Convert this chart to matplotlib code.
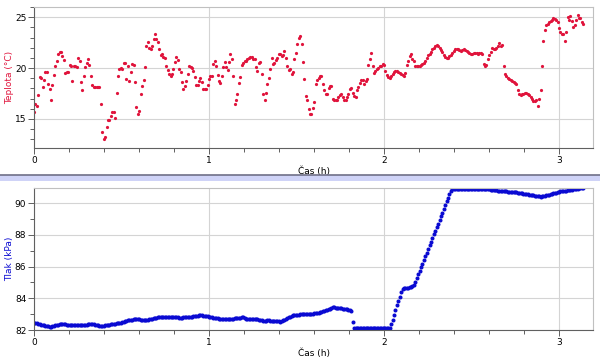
import numpy as np
import matplotlib
matplotlib.use("Agg")
import matplotlib.pyplot as plt
from matplotlib.patches import Rectangle
from matplotlib.lines import Line2D
from matplotlib.ticker import MultipleLocator

# sampling step of the logger (h)
DT = 0.00813

# temperature (°C), one value per sample
teplota = [
    15.7, 16.5, 16.3, 17.4, 19.1, 19.0, 18.1, 18.8, 19.6, 19.6, 18.4, 17.9, 16.9, 18.3, 19.3,
    20.2, 20.7, 21.4, 21.6, 21.6, 21.2, 20.8, 19.5, 19.6, 19.6, 20.3, 20.2, 18.7, 20.2, 20.2,
    20.1, 21.0, 20.7, 18.6, 17.8, 19.2, 20.1, 20.5, 20.9, 20.3, 19.2, 18.3, 18.1, 18.1, 18.1,
    18.1, 18.1, 16.5, 13.7, 13.0, 13.2, 14.2, 14.9, 14.9, 15.3, 15.7, 15.7, 15.1, 17.6, 19.2,
    19.9, 20.0, 19.9, 20.5, 20.5, 18.9, 20.2, 18.7, 19.6, 20.4, 20.3, 18.6, 16.2, 15.5, 15.8,
    # ~0.6 h
    17.5, 18.2, 18.8, 20.1, 22.2, 22.6, 22.0, 21.9, 22.2, 22.9, 23.3, 22.9, 22.6, 21.9, 21.3,
    21.4, 21.1, 21.0, 20.2, 19.8, 19.4, 19.2, 19.4, 19.9, 20.6, 21.1, 20.8, 19.9, 19.6, 18.6,
    17.9, 18.2, 18.7, 19.4, 20.2, 20.1, 20.0, 19.7, 19.1, 18.3, 18.3, 18.7, 19.0, 18.6, 17.9,
    17.9, 17.9, 18.3, 18.9, 19.2, 19.2, 20.4, 20.7, 20.2, 19.3, 18.7, 18.5, 19.2, 20.1, 20.6,
    20.1, 19.8, 20.6, 21.4, 20.9, 19.2, 16.5, 16.9, 17.5, 18.5, 19.1, 20.3, 20.5, 20.7, 20.7,
    20.9, 21.0, 21.1, 21.1,
    # ~1.25 h
    20.9, 20.9, 20.1, 19.7, 20.5, 20.6, 19.4, 17.5, 16.9, 17.6, 18.4, 19.0, 19.9, 21.0, 20.4,
    20.5, 20.8, 21.0, 21.4, 21.4, 21.2, 21.3, 21.7, 21.0, 20.2, 19.8, 19.9, 19.4, 19.6, 20.9,
    21.5, 22.4, 23.0, 23.2, 22.4, 20.6, 18.9, 17.3, 16.9, 16.0, 15.5, 15.5, 16.1, 16.7, 18.4,
    18.8, 19.0, 19.2, 19.2, 18.4, 17.8, 17.5, 17.5, 18.0, 18.2, 18.2, 17.0, 16.9, 16.9, 16.9,
    17.2, 17.4, 17.5, 17.2, 16.9, 16.9, 17.2, 17.5, 17.9, 18.0, 17.6, 17.3, 17.2, 17.8, 18.1,
    18.5, 18.8, 18.8, 18.4,
    # ~1.9 h
    18.7, 18.9, 20.3, 20.9, 21.5, 20.2, 19.5, 19.7, 19.9, 20.0, 20.2, 20.2, 20.4, 20.3, 19.7,
    19.3, 19.1, 19.0, 19.2, 19.4, 19.6, 19.7, 19.7, 19.6, 19.5, 19.4, 19.3, 19.2, 19.5, 20.3,
    20.7, 21.2, 21.4, 20.9, 20.7, 20.2, 20.2, 20.2, 20.2, 20.3, 20.4, 20.5, 20.7, 21.0, 21.3,
    21.4, 21.6, 21.9, 22.0, 22.2, 22.3, 22.2, 22.0, 21.8, 21.6, 21.3, 21.1, 21.0, 21.0, 21.2,
    21.3, 21.5, 21.7, 21.9, 21.9, 21.9, 21.8, 21.7, 21.8, 21.9, 21.8, 21.7, 21.6, 21.5, 21.4,
    21.4, 21.5, 21.5, 21.5,
    # ~2.55 h
    21.4, 21.5, 21.5, 21.4, 20.4, 20.2, 20.3, 20.9, 21.3, 21.6, 22.0, 21.9, 21.9, 22.0, 22.2,
    22.5, 22.2, 22.3, 20.2, 19.4, 19.2, 19.0, 18.9, 18.8, 18.7, 18.6, 18.5, 18.4, 17.8, 17.5,
    17.4, 17.5, 17.5, 17.6, 17.6, 17.5, 17.4, 17.2, 17.0, 16.8, 16.8, 16.9, 16.3, 17.0, 17.8,
    20.2, 22.7, 23.7, 24.2, 24.3, 24.5, 24.6, 24.7, 24.9, 24.8, 24.7, 24.5, 23.9, 23.5, 23.3,
    23.3, 22.7, 23.5, 25.0, 24.7, 25.1, 24.6, 24.0, 24.2, 24.7, 25.2, 24.9, 24.9, 24.5, 24.3,
]

# pressure (kPa), one value per sample
tlak = [
    82.46, 82.44, 82.41, 82.39, 82.36, 82.34, 82.31, 82.29, 82.27, 82.25, 82.23, 82.22, 82.21,
    82.24, 82.27, 82.30, 82.32, 82.34, 82.36, 82.38, 82.37, 82.36, 82.35, 82.34, 82.33, 82.33,
    82.32, 82.32, 82.32, 82.33, 82.33, 82.34, 82.34, 82.34, 82.34, 82.34, 82.34, 82.34, 82.35,
    82.35, 82.35, 82.36, 82.36, 82.34, 82.31, 82.29, 82.27, 82.27, 82.28, 82.28, 82.29, 82.29,
    82.31, 82.33, 82.35, 82.37, 82.38, 82.40, 82.41, 82.43, 82.44, 82.47, 82.50, 82.53, 82.56,
    82.59, 82.61, 82.63, 82.65, 82.66, 82.67, 82.67, 82.67, 82.67, 82.67, 82.66, 82.65, 82.64,
    82.64, 82.63, 82.65, 82.67, 82.69, 82.72, 82.74, 82.76, 82.77, 82.79, 82.80, 82.82, 82.82,
    82.82, 82.82, 82.82, 82.82, 82.81, 82.81, 82.80, 82.80, 82.80, 82.79, 82.79, 82.78, 82.78,
    82.78, 82.79, 82.79, 82.80, 82.81, 82.82, 82.83, 82.85, 82.86, 82.88, 82.89, 82.91, 82.92,
    # ~0.95 h
    82.94, 82.93, 82.91, 82.90, 82.88, 82.86, 82.84, 82.82, 82.80, 82.78, 82.76, 82.74,
    82.73, 82.72, 82.71, 82.70, 82.69, 82.68, 82.67, 82.68, 82.69, 82.70, 82.71, 82.72,
    82.73, 82.74, 82.75, 82.77, 82.78, 82.79, 82.80, 82.76, 82.71, 82.67,
    82.67, 82.68, 82.68, 82.69, 82.69, 82.69, 82.67, 82.65, 82.63, 82.61, 82.59,
    82.59, 82.59, 82.60, 82.60, 82.59, 82.59, 82.59, 82.58, 82.57, 82.56, 82.55, 82.53,
    82.57, 82.61, 82.65, 82.70, 82.74, 82.79, 82.84, 82.90, 82.95,
    82.96, 82.96, 82.97, 82.97, 82.98, 82.98, 82.99, 83.00, 83.00, 83.01, 83.01, 83.02, 83.02,
    83.03, 83.05, 83.06, 83.08, 83.09, 83.11, 83.14, 83.17, 83.20, 83.23, 83.26,
    83.30, 83.35, 83.39, 83.43, 83.42, 83.41, 83.40, 83.38, 83.37, 83.36, 83.35, 83.33, 83.32,
    83.30, 83.27, 83.24, 83.20,
    # drop at ~1.8 h
    82.53,
    82.15, 82.15, 82.15, 82.15, 82.15, 82.15, 82.15, 82.15, 82.15, 82.15, 82.15, 82.15, 82.15,
    82.15, 82.15, 82.15, 82.15, 82.15, 82.15, 82.15, 82.15, 82.15, 82.15, 82.15, 82.15, 82.15,
    # rise
    82.35, 82.65, 82.95, 83.25, 83.55, 83.83, 84.10, 84.42, 84.57, 84.65, 84.67, 84.67, 84.67,
    84.70, 84.72,
    84.75, 84.84, 85.05, 85.28, 85.50, 85.72, 85.95, 86.18, 86.42, 86.65, 86.88, 87.10, 87.33,
    87.56, 87.80, 88.03, 88.26, 88.48, 88.70, 88.93, 89.16, 89.40, 89.63, 89.86, 90.10, 90.35,
    90.58, 90.78, 90.88,
    # top
    90.90, 90.90, 90.90, 90.89, 90.89, 90.89, 90.88, 90.88, 90.88, 90.88,
    90.88, 90.89, 90.89, 90.89, 90.90, 90.90, 90.90, 90.90, 90.90,
    90.89, 90.89, 90.88, 90.88, 90.88,
    90.87, 90.86, 90.85, 90.84, 90.83, 90.82, 90.80, 90.79, 90.77,
    90.76, 90.75, 90.74, 90.74, 90.73, 90.72, 90.71, 90.71, 90.70, 90.69,
    90.68, 90.67, 90.65, 90.64, 90.63, 90.61, 90.60, 90.58, 90.56,
    90.55, 90.53, 90.52, 90.50, 90.49, 90.47, 90.46, 90.44, 90.43, 90.41,
    90.43, 90.45, 90.47, 90.49, 90.51, 90.53, 90.56,
    90.58, 90.61, 90.63, 90.65, 90.68, 90.70, 90.73,
    90.74, 90.76, 90.77, 90.79, 90.80, 90.82, 90.83,
    90.85, 90.86, 90.88, 90.89, 90.90, 90.92, 90.93, 90.94, 90.94,
]

t_teplota = np.arange(len(teplota)) * DT
t_tlak = np.arange(len(tlak)) * DT

RED = "#e0143c"
BLUE = "#0a0ad2"
plt.rcParams["font.family"] = ["DejaVu Sans"]

fig = plt.figure(figsize=(6, 3.57), dpi=100)
ax1 = fig.add_axes([34 / 600, 1 - 148 / 357, 559 / 600, 141 / 357])
ax2 = fig.add_axes([34 / 600, 1 - 330 / 357, 559 / 600, 142 / 357])

ax1.plot(t_teplota, teplota, "o", color=RED, ms=2.3, mew=0)
ax2.plot(t_tlak, tlak, "o", color=BLUE, ms=2.9, mew=0)

ax1.set_ylim(12.15, 26.0)
ax1.yaxis.set_major_locator(MultipleLocator(5))
ax1.yaxis.set_minor_locator(MultipleLocator(1))
ax2.set_ylim(82.0, 90.95)
ax2.yaxis.set_major_locator(MultipleLocator(2))
ax2.yaxis.set_minor_locator(MultipleLocator(1))

ax1.set_ylabel("Teplota (°C)", color=RED, fontsize=6.5)
ax2.set_ylabel("Tlak (kPa)", color=BLUE, fontsize=6.5)

for ax in (ax1, ax2):
    ax.set_xlim(0, 3.194)
    ax.xaxis.set_major_locator(MultipleLocator(1))
    ax.xaxis.set_minor_locator(MultipleLocator(0.2))
    ax.grid(True, which="major", color="#d4d4d4", lw=0.8)
    ax.set_axisbelow(True)
    ax.tick_params(which="both", direction="out", labelsize=6.5, pad=1.5,
                   color="#606060", width=0.7)
    ax.tick_params(which="major", length=4)
    ax.tick_params(which="minor", length=3)
    ax.set_xlabel("Čas (h)", fontsize=6.5, labelpad=1)
    ax.yaxis.set_label_coords(-0.036, 0.5)
    for s in ("top", "right"):
        ax.spines[s].set_color("#c0c0c0")
    for s in ("left", "bottom"):
        ax.spines[s].set_color("#606060")
    for s in ax.spines.values():
        s.set_linewidth(0.8)

# separator band between the two panels
fig.add_artist(Rectangle((0, 1 - 181 / 357), 1, 6 / 357, transform=fig.transFigure,
                         facecolor="#cfd3f7", edgecolor="none"))
fig.add_artist(Line2D([0, 1], [1 - 175 / 357] * 2, transform=fig.transFigure,
                      color="#707088", lw=1.2))

fig.savefig("out.png", dpi=100)
